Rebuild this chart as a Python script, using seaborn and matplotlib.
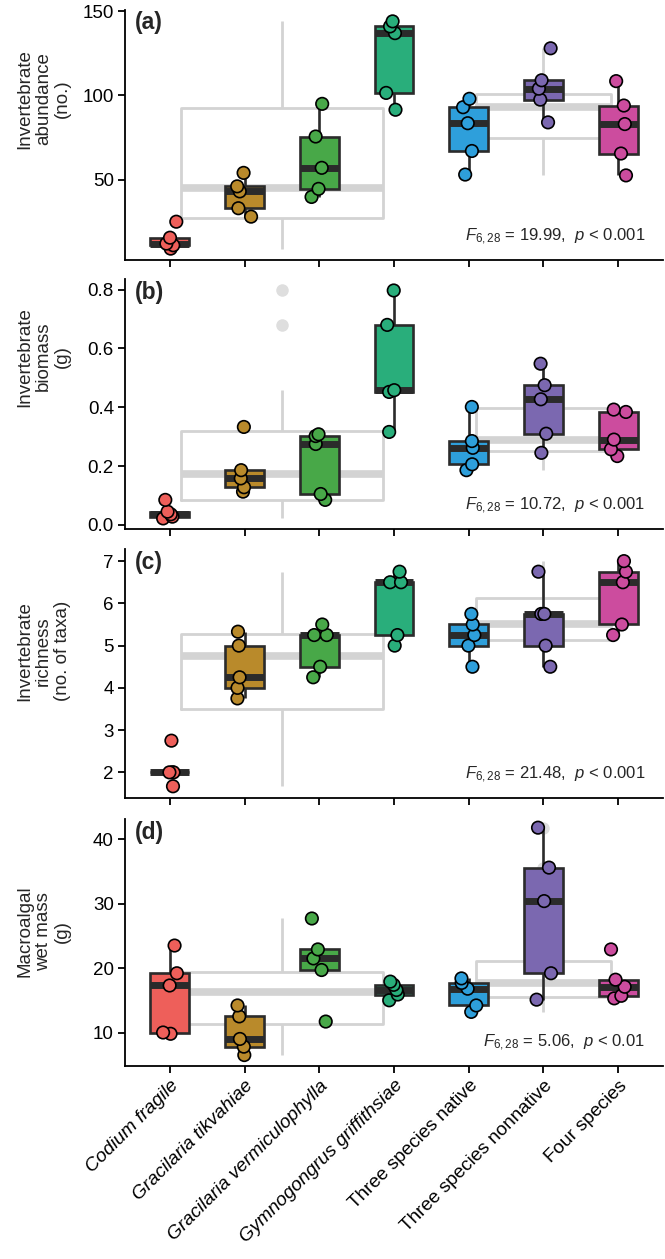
import numpy as np
import pandas as pd
import seaborn as sns
import matplotlib
matplotlib.use("Agg")
import matplotlib.pyplot as plt

# ---------------- data ----------------
categories = ["Codium fragile", "Gracilaria tikvahiae", "Gracilaria vermiculophylla",
              "Gymnogongrus griffithsiae", "Three species native",
              "Three species nonnative", "Four species"]
italic_flags = [True, True, True, True, False, False, False]
colors = ["#EE5F5A", "#B98A2B", "#48A848", "#29AE7B", "#2E9FDB", "#7B68B0", "#CC4C9E"]

abundance = [[9, 11, 12, 15.5, 25],
             [28, 33, 43, 46, 54],
             [39.7, 44.5, 57, 75.6, 95],
             [91.5, 101.5, 137, 141, 144],
             [53, 67, 83.5, 93, 98],
             [84, 97.5, 104, 109, 128],
             [52.5, 65.5, 83, 94, 108.5]]
biomass = [[0.022, 0.028, 0.036, 0.045, 0.085],
           [0.113, 0.128, 0.158, 0.186, 0.333],
           [0.085, 0.105, 0.275, 0.302, 0.308],
           [0.316, 0.452, 0.458, 0.68, 0.797],
           [0.186, 0.206, 0.262, 0.285, 0.401],
           [0.245, 0.31, 0.427, 0.475, 0.548],
           [0.234, 0.257, 0.29, 0.384, 0.392]]
richness = [[1.67, 2.0, 2.0, 2.0, 2.75],
            [3.75, 4.0, 4.25, 5.0, 5.33],
            [4.25, 4.5, 5.25, 5.25, 5.5],
            [5.0, 5.25, 6.5, 6.5, 6.75],
            [4.5, 5.0, 5.25, 5.5, 5.75],
            [4.5, 5.0, 5.75, 5.75, 6.75],
            [5.25, 5.5, 6.5, 6.75, 7.0]]
wetmass = [[9.8, 10.0, 17.3, 19.2, 23.5],
           [6.5, 7.8, 9.0, 12.5, 14.2],
           [11.7, 19.7, 21.5, 22.9, 27.7],
           [15.0, 15.9, 16.6, 17.4, 17.9],
           [13.2, 14.2, 16.8, 17.7, 18.4],
           [15.1, 19.2, 30.4, 35.6, 41.8],
           [15.3, 15.7, 17.1, 18.2, 22.9]]

panel_letters = ["(a)", "(b)", "(c)", "(d)"]
y_titles = ["Invertebrate\nabundance\n(no.)", "Invertebrate\nbiomass\n(g)",
            "Invertebrate\nrichness\n(no. of taxa)", "Macroalgal\nwet mass\n(g)"]
stat_texts = [r"$F_{\mathrm{6,28}}$ = 19.99,  $p$ < 0.001",
              r"$F_{\mathrm{6,28}}$ = 10.72,  $p$ < 0.001",
              r"$F_{\mathrm{6,28}}$ = 21.48,  $p$ < 0.001",
              r"$F_{\mathrm{6,28}}$ = 5.06,  $p$ < 0.01"]
y_ticks = [[50, 100, 150], [0.0, 0.2, 0.4, 0.6, 0.8], [2, 3, 4, 5, 6, 7], [10, 20, 30, 40]]
y_ticklabels = [["50", "100", "150"], ["0.0", "0.2", "0.4", "0.6", "0.8"],
                ["2", "3", "4", "5", "6", "7"], ["10", "20", "30", "40"]]
y_limits = [(2.25, 150.75), (-0.015, 0.836), (1.40, 7.28), (4.8, 43.1)]
panels = [abundance, biomass, richness, wetmass]

mono_idx = [0, 1, 2, 3]
poly_idx = [4, 5, 6]

# ---------------- style ----------------
sns.set_style("ticks")
plt.rcParams["font.family"] = ["Liberation Sans", "DejaVu Sans"]
plt.rcParams["mathtext.fontset"] = "custom"
plt.rcParams["mathtext.rm"] = "Liberation Sans"
plt.rcParams["mathtext.it"] = "Liberation Sans:italic"
plt.rcParams["mathtext.bf"] = "Liberation Sans:bold"

np.random.seed(3)

W, H = 665, 1259
fig = plt.figure(figsize=(W / 100, H / 100), dpi=100)

ax_left, ax_right = 125, 663
tops = [10, 279, 549.3, 819.3]
bottoms = [260, 529.3, 797.7, 1066]
label_y = [0.645, 0.69, 0.59, 0.545]

dark = "#2B2B2B"
grey = "#D3D3D3"

for k, values in enumerate(panels):
    ax = fig.add_axes([ax_left / W, 1 - bottoms[k] / H,
                       (ax_right - ax_left) / W, (bottoms[k] - tops[k]) / H])

    rows = []
    for i, vals in enumerate(values):
        for v in vals:
            rows.append({"pos": float(i), "cat": categories[i], "value": v})
    df = pd.DataFrame(rows)

    mono = pd.DataFrame({"pos": 1.5,
                         "value": [v for i in mono_idx for v in values[i]]})
    poly = pd.DataFrame({"pos": 5.0,
                         "value": [v for i in poly_idx for v in values[i]]})

    grey_kw = dict(fill=False, color=grey, linewidth=2.0, showcaps=False,
                   medianprops=dict(linewidth=5.5, color=grey),
                   flierprops=dict(marker="o", markerfacecolor="#DEDEDE",
                                   markeredgecolor="none", markersize=9),
                   native_scale=True, zorder=0.5, ax=ax)
    sns.boxplot(data=mono, x="pos", y="value", width=2.7, **grey_kw)
    sns.boxplot(data=poly, x="pos", y="value", width=1.8, **grey_kw)

    sns.boxplot(data=df, x="pos", y="value", hue="cat", hue_order=categories,
                palette=colors, native_scale=True, dodge=False, width=0.52,
                linecolor=dark, linewidth=1.9, showcaps=False, showfliers=False,
                medianprops=dict(linewidth=5, color=dark), saturation=1,
                legend=False, zorder=2, ax=ax)

    sns.stripplot(data=df, x="pos", y="value", hue="cat", hue_order=categories,
                  palette=colors, native_scale=True, dodge=False, jitter=0.11,
                  size=9, linewidth=1.2, edgecolor="black", legend=False,
                  zorder=3, ax=ax)

    ax.set_xlim(-0.6, 6.6)
    ax.set_ylim(*y_limits[k])
    ax.set_xticks(range(len(categories)))
    ax.set_yticks(y_ticks[k])
    ax.set_yticklabels(y_ticklabels[k])
    ax.set_xlabel("")
    sns.despine(ax=ax)
    for s in ["left", "bottom"]:
        ax.spines[s].set_linewidth(1.3)
        ax.spines[s].set_color("black")
    ax.tick_params(axis="both", width=1.3, length=5, color="black",
                   labelsize=13.5, labelcolor="black", pad=3)

    if k == 3:
        ax.set_xticklabels(categories, rotation=45, ha="right", va="top",
                           rotation_mode="anchor", fontsize=13.7)
        for lab, it in zip(ax.get_xticklabels(), italic_flags):
            lab.set_fontstyle("italic" if it else "normal")
    else:
        ax.set_xticklabels([])

    ax.set_ylabel(y_titles[k], fontsize=13.5, linespacing=1.15)
    ax.yaxis.set_label_coords(-0.10, label_y[k])

    ax.text(0.018, 0.948, panel_letters[k], transform=ax.transAxes,
            fontsize=16.5, fontweight="bold", ha="left", va="center")
    ax.text(0.967, 0.092, stat_texts[k], transform=ax.transAxes,
            fontsize=12, ha="right", va="center")

fig.savefig("out.png", dpi=100)
